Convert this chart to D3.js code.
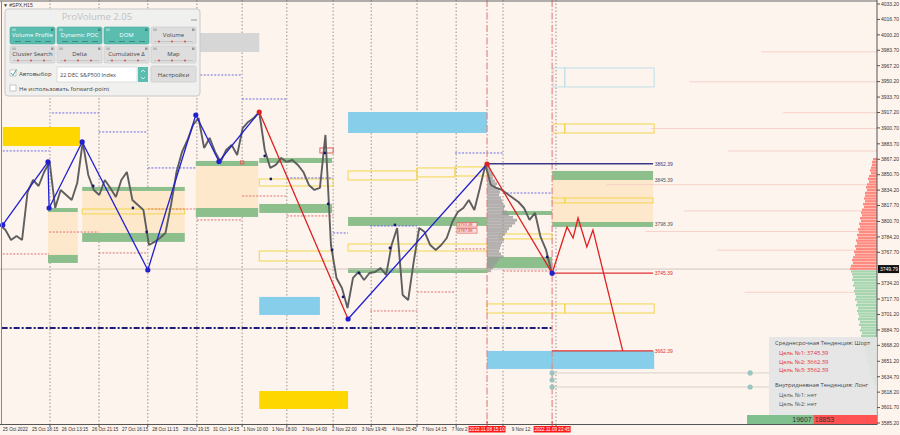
<!DOCTYPE html>
<html>
<head>
<meta charset="utf-8">
<script src="https://cdn.jsdelivr.net/npm/d3@7"></script>
<style>
  body { margin: 0; background: #fdf4ee; overflow: hidden; }
  svg { display: block; font-family: "Liberation Sans", Arial, sans-serif; }
</style>
</head>
<body>
<svg id="chart" width="900" height="435"></svg>
<script>
// ---- data ----
var closes = [3796.9,3791.6,3780.9,3785.2,3780.9,3832.2,3845.0,3838.6,3853.6,3864.3,
  3815.1,3834.4,3829.0,3823.7,3841.8,3885.7,3850.4,3834.4,3829.0,3845.0,
  3836.5,3826.9,3845.0,3853.6,3823.7,3818.3,3813.0,3775.5,3778.8,3783.0,
  3788.4,3818.3,3853.6,3875.0,3887.8,3903.8,3911.3,3879.3,3890.0,3875.0,
  3864.3,3877.1,3882.5,3871.8,3900.6,3907.1,3911.3,3917.7,3877.1,3857.9,
  3861.1,3868.6,3864.3,3866.4,3861.1,3853.6,3839.7,3834.4,3836.5,3893.2,
  3775.5,3740.3,3729.6,3708.2,3740.3,3746.7,3738.1,3745.6,3746.7,3750.9,
  3743.5,3775.5,3793.7,3722.1,3716.7,3757.4,3793.7,3789.4,3775.5,3770.2,
  3775.5,3783.0,3800.1,3810.8,3815.1,3823.7,3813.0,3836.5,3861.1,3839.7,
  3836.5,3834.4,3830.1,3825.8,3821.5,3815.1,3802.3,3809.8,3784.1,3770.2,3746.7];

var zigzag = [[0.5,3797],[8.7,3864.3],[8.9,3815.1],[14.9,3885.7],[26.8,3748.8],[35.5,3914.5],
  [39.7,3864.8],[47.0,3917.7],[63.1,3696.4],[88.3,3862.1],[100.1,3745.4]];
var zigzagLegs = ["b","b","b","b","b","b","b","r","b","r"];
var zigzagDots = ["b","b","b","b","b","b","b","r","b","r","b"];
var projection = [[100.1,3745.4],[102.8,3794.8],[103.9,3783.0],[104.8,3804.4],[106.4,3773.4],[107.5,3791.6],[112.9,3662.4]];

var smallMarks = [[16.9,3838.6],[24.1,3815.1],[26.6,3789.4],[48.0,3870.7],[49.1,3846.1],[58.9,3873.9],
  [59.5,3819.4],[60.2,3770.2],[62.2,3720.0],[65.1,3745.6],[70.7,3772.3],[71.6,3797],[99.2,3762.7]];

// zones: [fromIdx, toIdx, top, bottom]
var goldZones  = [[0.5,14.5,3901.7,3881.4],[47.0,63.1,3619.4,3600.2]];
var grayZones  = [[27.2,47.0,4002.2,3981.9]];
var blueZones  = [[47.0,58.0,3720.0,3700.7],[63.1,88.3,3917.7,3895.3],[88.3,118.6,3662.2,3643.0]];
var beigeZones = [[8.7,14.1,3810.8,3764.9],[14.9,33.5,3833.3,3788.4],[35.5,46.8,3860.0,3815.1],[100.1,118.4,3845.0,3800.1]];
var greenZones = [[8.7,14.1,3815.1,3810.8],[8.7,14.1,3764.9,3756.3],[14.9,33.5,3837.6,3833.3],[14.9,33.5,3788.4,3778.8],
  [35.5,46.8,3865.4,3860.0],[35.5,46.8,3815.1,3805.5],[47,60.2,3868.6,3863.2],[47,60.2,3819.4,3809.8],
  [63.1,88.3,3805.5,3795.9],[63.1,88.3,3750.9,3745.6],[91.0,100.1,3811.9,3807.6],[88.3,100.1,3762.7,3750.9],
  [100.1,118.4,3854.7,3845.0],[100.1,118.4,3800.1,3794.8]];
var yellowBoxes = [[14.9,33.5,3814.0,3808.7],[47,60.4,3846.1,3838.6],[47,60.4,3769.1,3758.4],[63.1,75.6,3854.7,3845.0],
  [75.6,82.5,3857.9,3848.3],[82.5,88.3,3859.0,3849.3],[63.1,88.3,3776.6,3769.1],[90.6,100.1,3787.3,3782.0],
  [100.1,102.4,3825.8,3820.5],[102.4,118.4,3825.8,3820.5],[100.3,102.4,3904.9,3895.3],[102.4,118.6,3904.9,3895.3],
  [88.3,102.4,3712.5,3702.8],[102.4,118.6,3712.5,3702.8]];
var lightBlueBoxes = [[100.3,102.4,3964.8,3944.5],[102.4,118.6,3964.8,3944.5]];
var redBoxes = [[58.0,60.4,3879.3,3873.9],[43.6,44.2,3865.4,3862.2]];

// dotted levels: [fromIdx, toIdx, price]
var blueDotted = [[0.5,8.9,3876.1],[9.4,17.9,3916.7],[17.9,26.8,3896.4],[26.8,35.5,3857.9],[36.3,43.9,3957.3],
  [43.9,52.0,3931.6],[52.0,60.4,3847.2],[60.4,63.1,3788.4],[67.1,75.6,3795.9],[82.5,91.2,3873.9],[91.2,100.1,3831.1]];
var redDotted = [[0.5,8.9,3765.9],[8.9,17.9,3789.4],[17.9,26.8,3767.0],[26.8,35.5,3814.0],[35.7,43.9,3802.3],
  [43.9,52.0,3827.9],[52.0,60.4,3806.6],[67.1,75.6,3705.0],[75.6,82.5,3725.3],[82.5,88.3,3771.3],[91.2,100.1,3747.7]];

var navyLevel = 3686.8;
var lastPrice = 3749.79;
var targets = [{p:3862.39, c:"#3a3a8a", from:88.3}, {p:3845.39, c:"#555", from:null},
  {p:3798.39, c:"#555", from:null}, {p:3745.39, c:"#e03030", from:100.1}, {p:3662.39, c:"#e03030", from:100.1}];

// session volume profile at 2022.11.08 15:10 (top price, step 3)
var profileTop = 3862, profileStep = 3;
var profileVol = [2,3,4,5,6,6,8,10,9,12,13,12,14,15,16,18,17,20,22,26,30,28,25,22,20,18,16,17,15,14,13,12,14,16,12,10,8,6,4];

// right edge profile: red above last price, green below
var redVolTop = 3867, greenVolTop = 3747, volStep = 3;
var redVol = [4,5,5,6,7,6,8,9,8,10,11,10,12,12,13,12,14,13,15,16,15,17,16,18,17,19,18,20,19,21,20,22,21,23,22,24,25,24,26,27];
var greenVol = [26,25,24,25,23,24,22,23,22,21,22,20,21,19,20,19,18,19,17,18,16,17,15,16,14,15,13,14,12,12,11,10,10,9,8,8,7,6,5,4,3];
var faintLines = [[3982,138],[3950,125],[3917,142],[3900,118],[3876,132],[3840,110],[3812,124],[3790,117],[3770,130],[3725,135]];

var tealDots = [[100.1,3638.7],[100.1,3631.2],[100.1,3623.7],[136,3638.7],[136,3623.7]];

var yTicks = [4033.2,4016.7,4000.2,3983.7,3967.2,3950.2,3933.7,3917.2,3900.7,3883.7,3867.2,3850.7,3834.2,3817.7,
  3800.7,3784.2,3767.7,3734.2,3717.7,3701.2,3684.7,3668.2,3651.2,3634.7,3618.2,3601.7,3585.2];
var timeIdx = [0.5,5.8,11.2,16.7,22.1,27.6,33.2,38.6,44.1,49.3,54.8,60.2,65.6,71.1,76.5,81.9,92.8];
var timeLabels = ["25 Oct 2022","25 Oct 18:15","26 Oct 13:15","26 Oct 21:15","27 Oct 16:15","28 Oct 11:15",
  "28 Oct 19:15","31 Oct 14:15","1 Nov 10:00","1 Nov 18:00","2 Nov 14:00","2 Nov 22:00","3 Nov 19:45",
  "4 Nov 15:45","7 Nov 14:15","7 Nov 2","9 Nov 12:"];
var daySeparators = [9.06,17.95,26.8,35.7,43.9,52.0,60.4,67.3,75.6,82.7,91.2,100.8];
var markerIdx = [88.3,100.1];
var markerLabels = ["2022.11.08 15:10","2022.11.09 22:45"];

var buyVol = 19607, sellVol = 18853;

// ---- scales ----
var svg = d3.select("#chart");
var x = d3.scaleLinear().domain([0,159]).range([0,877]);
var y = d3.scaleLinear().domain([3585.2,4033.2]).range([423,4]);

var g = svg.append("g");

// day separators
g.selectAll(".sep").data(daySeparators).enter().append("line")
  .attr("x1", d => x(d)).attr("x2", d => x(d)).attr("y1", 0).attr("y2", 424)
  .attr("stroke", "#7a7a7a").attr("stroke-width", 0.8).attr("stroke-dasharray", "1.5,2");

function zones(data, fill, stroke, sw) {
  g.append("g").selectAll("rect").data(data).enter().append("rect")
    .attr("x", d => x(d[0])).attr("width", d => x(d[1]) - x(d[0]))
    .attr("y", d => y(d[2])).attr("height", d => y(d[3]) - y(d[2]))
    .attr("fill", fill).attr("stroke", stroke || "none").attr("stroke-width", sw || 1);
}
zones(beigeZones, "#fde8cc");
zones(goldZones, "#ffd700");
zones(grayZones, "#d6d6d6");
zones(blueZones, "#87ceeb");
zones(greenZones, "#8cbf8c");
zones(yellowBoxes, "none", "#f2d64b", 1);
zones(lightBlueBoxes, "none", "#bfe0e8", 1);
zones(redBoxes, "none", "#e06060", 1);

// faint lines from right profile
g.selectAll(".faint").data(faintLines).enter().append("line")
  .attr("x1", d => x(d[1])).attr("x2", 877).attr("y1", d => y(d[0])).attr("y2", d => y(d[0]))
  .attr("stroke", "#f4c8c0").attr("stroke-width", 0.8);

// current price line
g.append("line").attr("x1", 0).attr("x2", 877).attr("y1", y(lastPrice)).attr("y2", y(lastPrice))
  .attr("stroke", "#cfc6c0").attr("stroke-width", 1);

// dotted levels
function dotted(data, color) {
  g.append("g").selectAll("line").data(data).enter().append("line")
    .attr("x1", d => x(d[0])).attr("x2", d => x(d[1])).attr("y1", d => y(d[2])).attr("y2", d => y(d[2]))
    .attr("stroke", color).attr("stroke-width", 1).attr("stroke-dasharray", "2,1.5");
}
dotted(blueDotted, "#6a6ae0");
dotted(redDotted, "#e07070");

// navy dash-dot level
g.append("line").attr("x1", x(0.3)).attr("x2", x(100.1)).attr("y1", y(navyLevel)).attr("y2", y(navyLevel))
  .attr("stroke", "#1c1c7a").attr("stroke-width", 2.2).attr("stroke-dasharray", "6,2,2,2");

// marker vertical lines
g.selectAll(".mk").data(markerIdx).enter().append("line")
  .attr("x1", d => x(d)).attr("x2", d => x(d)).attr("y1", 0).attr("y2", 424)
  .attr("stroke", "#e08a8a").attr("stroke-width", 1.2).attr("stroke-dasharray", "7,2,1.5,2");

// session profile
g.append("g").selectAll("rect").data(profileVol).enter().append("rect")
  .attr("x", x(88.3)).attr("width", d => d)
  .attr("y", (d, i) => y(profileTop - i * profileStep + profileStep / 2))
  .attr("height", y(0) - y(profileStep))
  .attr("fill", "#9a9a9a").attr("opacity", 0.75);

// right edge volume
g.append("g").selectAll("rect").data(redVol).enter().append("rect")
  .attr("x", d => 877 - d).attr("width", d => d)
  .attr("y", (d, i) => y(redVolTop - i * volStep + volStep / 2)).attr("height", y(0) - y(volStep) - 0.4)
  .attr("fill", "#ff8a80");
g.append("g").selectAll("rect").data(greenVol).enter().append("rect")
  .attr("x", d => 877 - d).attr("width", d => d)
  .attr("y", (d, i) => y(greenVolTop - i * volStep + volStep / 2)).attr("height", y(0) - y(volStep) - 0.4)
  .attr("fill", "#a6d6b0");

// target levels
targets.forEach(function(t) {
  if (t.from !== null) {
    g.append("line").attr("x1", x(t.from)).attr("x2", x(118.4)).attr("y1", y(t.p)).attr("y2", y(t.p))
      .attr("stroke", t.c).attr("stroke-width", 1.3);
  }
  g.append("text").attr("x", x(118.7)).attr("y", y(t.p) + 2).attr("font-size", 5).attr("fill", t.c)
    .text(d3.format(".2f")(t.p));
});

// teal dots and their lines
g.append("line").attr("x1", x(100.1)).attr("x2", 770).attr("y1", y(3638.7)).attr("y2", y(3638.7)).attr("stroke", "#d8d0ca");
g.append("line").attr("x1", x(100.1)).attr("x2", 770).attr("y1", y(3623.7)).attr("y2", y(3623.7)).attr("stroke", "#d8d0ca");
g.selectAll(".td").data(tealDots).enter().append("circle")
  .attr("cx", d => x(d[0])).attr("cy", d => y(d[1])).attr("r", 2.6).attr("fill", "#9cc4be");

// price
var line = d3.line().x((d, i) => x(i)).y(d => y(d));
g.append("path").datum(closes).attr("d", line).attr("fill", "none")
  .attr("stroke", "#5e5e5e").attr("stroke-width", 1.9).attr("stroke-linejoin", "bevel");

// small labels in the last session
g.append("rect").attr("x", 457).attr("y", y(3799.5)).attr("width", 20).attr("height", 4.5).attr("fill", "#fbe0da").attr("stroke", "#e06060").attr("stroke-width", 0.7);
g.append("rect").attr("x", 457).attr("y", y(3793)).attr("width", 20).attr("height", 4.5).attr("fill", "#fbe0da").attr("stroke", "#e06060").attr("stroke-width", 0.7);
g.append("text").attr("x", 458).attr("y", y(3799.5) + 3.7).attr("font-size", 4).attr("fill", "#d03030").text("3793.38");
g.append("text").attr("x", 458).attr("y", y(3793) + 3.7).attr("font-size", 4).attr("fill", "#d03030").text("3787.88");

// zigzag
var colors = {b: "#2020d0", r: "#dd2020"};
zigzagLegs.forEach(function(c, i) {
  g.append("line").attr("x1", x(zigzag[i][0])).attr("y1", y(zigzag[i][1]))
    .attr("x2", x(zigzag[i + 1][0])).attr("y2", y(zigzag[i + 1][1]))
    .attr("stroke", colors[c]).attr("stroke-width", 1.3);
});
g.append("path").datum(projection).attr("fill", "none").attr("stroke", "#e02020").attr("stroke-width", 1.3)
  .attr("d", d3.line().x(d => x(d[0])).y(d => y(d[1])));
g.selectAll(".sm").data(smallMarks).enter().append("circle")
  .attr("cx", d => x(d[0])).attr("cy", d => y(d[1])).attr("r", 1.4).attr("fill", "#1a1a6a");
g.selectAll(".zd").data(zigzag).enter().append("circle")
  .attr("cx", d => x(d[0])).attr("cy", d => y(d[1])).attr("r", 2.6)
  .attr("fill", (d, i) => colors[zigzagDots[i]]);

// frame
svg.append("line").attr("x1", 0).attr("x2", 877).attr("y1", 1).attr("y2", 1).attr("stroke", "#666");
svg.append("line").attr("x1", 1.5).attr("x2", 1.5).attr("y1", 1).attr("y2", 424).attr("stroke", "#888");
svg.append("text").attr("x", 3).attr("y", 7).attr("font-size", 5).attr("fill", "#333").text("\u25BC #SPX,H15");

// right axis
var ax = svg.append("g");
ax.append("line").attr("x1", 877).attr("x2", 877).attr("y1", 0).attr("y2", 425).attr("stroke", "#555");
ax.selectAll(".yt").data(yTicks).enter().append("g").each(function(d) {
  var s = d3.select(this);
  s.append("line").attr("x1", 877).attr("x2", 880).attr("y1", y(d)).attr("y2", y(d)).attr("stroke", "#555");
  s.append("text").attr("x", 881).attr("y", y(d) + 1.8).attr("font-size", 5).attr("fill", "#333")
    .text(d3.format(".2f")(d));
});
ax.append("rect").attr("x", 878).attr("y", y(lastPrice) - 4).attr("width", 21).attr("height", 8).attr("fill", "#111");
ax.append("text").attr("x", 880).attr("y", y(lastPrice) + 1.8).attr("font-size", 5).attr("fill", "#fff")
  .text(d3.format(".2f")(lastPrice));

// bottom axis
var bx = svg.append("g");
bx.append("line").attr("x1", 0).attr("x2", 877).attr("y1", 424.5).attr("y2", 424.5).attr("stroke", "#555");
bx.selectAll(".tl").data(timeIdx).enter().append("text")
  .attr("x", d => x(d)).attr("y", 431).attr("font-size", 4.6).attr("fill", "#333")
  .text((d, i) => timeLabels[i]);
bx.selectAll(".tk").data(daySeparators).enter().append("line")
  .attr("x1", d => x(d)).attr("x2", d => x(d)).attr("y1", 424).attr("y2", 427).attr("stroke", "#555");
markerIdx.forEach(function(m, i) {
  bx.append("rect").attr("x", x(m) - 18.5).attr("y", 426).attr("width", 37).attr("height", 6.5).attr("fill", "#ff1a1a");
  bx.append("text").attr("x", x(m)).attr("y", 431).attr("font-size", 4.6).attr("fill", "#fff")
    .attr("text-anchor", "middle").text(markerLabels[i]);
  bx.append("line").attr("x1", x(m)).attr("x2", x(m)).attr("y1", 421).attr("y2", 426).attr("stroke", "#e03030");
});

// buy / sell bar
var vb = d3.scaleLinear().domain([0, buyVol + sellVol]).range([747, 877]);
svg.append("rect").attr("x", vb(0)).attr("y", 415).attr("width", vb(buyVol) - vb(0)).attr("height", 9).attr("fill", "#80bf8e");
svg.append("rect").attr("x", vb(buyVol)).attr("y", 415).attr("width", vb(buyVol + sellVol) - vb(buyVol)).attr("height", 9).attr("fill", "#ff5252");
svg.append("text").attr("x", vb(buyVol) - 1.5).attr("y", 422).attr("font-size", 7).attr("fill", "#333").attr("text-anchor", "end").text(buyVol);
svg.append("text").attr("x", vb(buyVol) + 1.5).attr("y", 422).attr("font-size", 7).attr("fill", "#333").text(sellVol);

// trend info panel
var info = svg.append("g").attr("font-family", "'Open Sans', sans-serif");
info.append("rect").attr("x", 769).attr("y", 337).attr("width", 108).attr("height", 78).attr("fill", "#e4e4e4").attr("opacity", 0.9);
var infoRows = [
  ["Среднесрочная Тенденция: Шорт", 775, 345, "#444"],
  ["Цель №1: 3745.39", 779, 355, "#e03030"],
  ["Цель №2: 3662.39", 779, 363.5, "#e03030"],
  ["Цель №3: 3562.39", 779, 372, "#e03030"],
  ["Внутридневная Тенденция: Лонг", 775, 387, "#444"],
  ["Цель №1: нет", 779, 397, "#555"],
  ["Цель №2: нет", 779, 406, "#555"]];
info.selectAll("text").data(infoRows).enter().append("text")
  .attr("x", d => d[1]).attr("y", d => d[2]).attr("font-size", 5.8).attr("fill", d => d[3]).text(d => d[0]);

// ProVolume panel
var p = svg.append("g").attr("font-family", "'Open Sans', sans-serif");
p.append("rect").attr("x", 5).attr("y", 9).attr("width", 195).attr("height", 87).attr("rx", 3)
  .attr("fill", "#f0f0f0").attr("stroke", "#c8c8c8").attr("opacity", 0.97);
p.append("text").attr("x", 97).attr("y", 20).attr("text-anchor", "middle").attr("font-size", 9.5)
  .attr("fill", "#c2c2c2").text("ProVolume 2.05");
p.append("line").attr("x1", 191).attr("x2", 197).attr("y1", 20).attr("y2", 20).attr("stroke", "#999");

var buttons = [
  ["Volume Profile", 10, 27, true], ["Dynamic POC", 57, 27, true], ["DOM", 104, 27, true], ["Volume", 151, 27, false],
  ["Cluster Search", 10, 46, false], ["Delta", 57, 46, false], ["Cumulative \u0394", 104, 46, false], ["Map", 151, 46, false]];
buttons.forEach(function(b) {
  var bg = p.append("g");
  bg.append("rect").attr("x", b[1]).attr("y", b[2]).attr("width", 45).attr("height", 17).attr("rx", 1.5)
    .attr("fill", b[3] ? "#5bbcb0" : "#dedede").attr("stroke", b[3] ? "#4aa99e" : "#c6c6c6").attr("stroke-width", 0.6);
  bg.append("text").attr("x", b[1] + 22.5).attr("y", b[2] + 9.5).attr("text-anchor", "middle").attr("font-size", 6)
    .attr("fill", b[3] ? "#fff" : "#444").text(b[0]);
  bg.append("rect").attr("x", b[1] + 41).attr("y", b[2] + 1.5).attr("width", 2.5).attr("height", 2.5).attr("fill", b[3] ? "#3d8a82" : "#999");
  bg.append("rect").attr("x", b[1] + 2).attr("y", b[2] + 1.5).attr("width", 4).attr("height", 2.5).attr("fill", b[3] ? "#8fd3ca" : "#bbb");
  if (b[3]) {
    [0, 1, 2, 3].forEach(function(k) {
      bg.append("line").attr("x1", b[1] + 5 + k * 10).attr("x2", b[1] + 11 + k * 10).attr("y1", b[2] + 14.5).attr("y2", b[2] + 14.5)
        .attr("stroke", "#3d8a82").attr("stroke-width", 1);
    });
  } else {
    bg.append("line").attr("x1", b[1] + 3).attr("x2", b[1] + 42).attr("y1", b[2] + 14.5).attr("y2", b[2] + 14.5)
      .attr("stroke", "#c4c4c4").attr("stroke-width", 1);
    [0, 1, 2].forEach(function(k) {
      bg.append("circle").attr("cx", b[1] + 8 + k * 13).attr("cy", b[2] + 14.5).attr("r", 0.9).attr("fill", "#d64040");
    });
  }
});
// checkbox rows
p.append("rect").attr("x", 10).attr("y", 70).attr("width", 6).attr("height", 6).attr("fill", "#fff").attr("stroke", "#aaa").attr("stroke-width", 0.6);
p.append("path").attr("d", "M11,73 L13,75.5 L16.5,69.5").attr("fill", "none").attr("stroke", "#4aa99e").attr("stroke-width", 1);
p.append("text").attr("x", 19).attr("y", 76).attr("font-size", 6).attr("fill", "#444").text("Автовыбор");
p.append("rect").attr("x", 57).attr("y", 67).attr("width", 80).attr("height", 15).attr("fill", "#fff").attr("stroke", "#ccc").attr("stroke-width", 0.6);
p.append("text").attr("x", 60).attr("y", 76.5).attr("font-size", 5.6).attr("fill", "#444").text("22 DEC S&P500 Index");
p.append("rect").attr("x", 138).attr("y", 67).attr("width", 10).attr("height", 15).attr("fill", "#5bbcb0");
p.append("path").attr("d", "M141,72 L143,70 L145,72 M141,77 L143,79 L145,77").attr("fill", "none").attr("stroke", "#fff").attr("stroke-width", 0.7);
p.append("rect").attr("x", 151).attr("y", 66).attr("width", 45).attr("height", 16).attr("rx", 1.5).attr("fill", "#dedede").attr("stroke", "#c6c6c6").attr("stroke-width", 0.6);
p.append("text").attr("x", 173.5).attr("y", 76.5).attr("text-anchor", "middle").attr("font-size", 6).attr("fill", "#444").text("Настройки");
p.append("rect").attr("x", 10).attr("y", 85).attr("width", 6).attr("height", 6).attr("fill", "#fff").attr("stroke", "#aaa").attr("stroke-width", 0.6);
p.append("text").attr("x", 19).attr("y", 90.5).attr("font-size", 6).attr("fill", "#444").text("Не использовать forward-point");
</script>
</body>
</html>
